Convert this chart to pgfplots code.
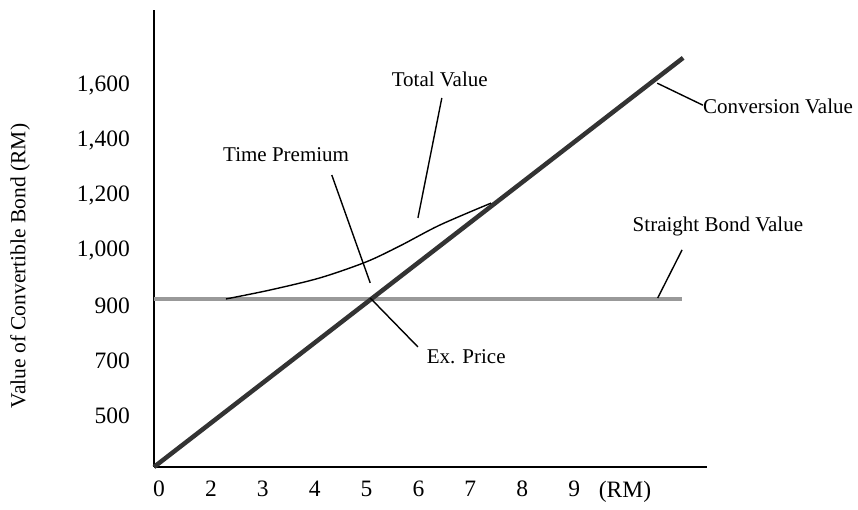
\documentclass[border=0pt]{standalone}
\usepackage{pgfplots}
\pgfplotsset{compat=1.18}
\usepackage{fontspec}
\setmainfont{Liberation Serif}
\definecolor{convc}{HTML}{333333}
\definecolor{bondc}{HTML}{999999}
\begin{document}
\fontsize{21}{25}\selectfont
\begin{tikzpicture}[x=1pt,y=1pt]
\path[use as bounding box] (0,0) rectangle (858,510);
\begin{axis}[
  at={(154pt,43pt)}, anchor=south west,
  scale only axis, width=553pt, height=457pt,
  xmin=-0.096, xmax=10.56, ymin=0.073, ymax=8.38,
  axis x line*=bottom, axis y line*=left,
  axis line style={line width=1.5pt, black},
  major tick length=0pt,
  xtick={0,1,2,3,4,5,6,7,8,8.98},
  xticklabels={0,2,3,4,5,6,7,8,9,(RM)},
  ytick={1,2,3,4,5,6,7},
  yticklabels={500,700,900,{1,000},{1,200},{1,400},{1,600}},
  ticklabel style={font=\fontsize{23.5}{27}\selectfont},
  xticklabel style={yshift=-7pt},
  yticklabel style={xshift=-17pt},
  ylabel={Value of Convertible Bond (RM)},
  every axis y label/.style={at={(axis description cs:-0.242,0.44)}, rotate=90, anchor=center, font=\fontsize{21.5}{25}\selectfont},
  clip=false,
]
% Straight bond value
\addplot[bondc, line width=3.5pt, no markers] coordinates {(-0.096,3.127) (10.08,3.127)};
% Conversion value
\addplot[convc, line width=4.5pt, no markers] coordinates {(-0.096,0.073) (10.10,7.51)};
% Total value
\addplot[black, line width=1.4pt, no markers, smooth, tension=0.5] coordinates {
(1.29,3.127) (2.14,3.29) (3.10,3.51) (3.99,3.80) (4.64,4.09) (5.41,4.47) (6.40,4.87)};
% leader lines
\draw[black, line width=1.4pt] (axis cs:5.45,6.78) -- (axis cs:4.99,4.60);
\draw[black, line width=1.4pt] (axis cs:3.33,5.38) -- (axis cs:4.07,3.42);
\draw[black, line width=1.4pt] (axis cs:4.07,3.145) -- (axis cs:4.99,2.255);
\draw[black, line width=1.4pt] (axis cs:9.60,7.05) -- (axis cs:10.48,6.65);
\draw[black, line width=1.4pt] (axis cs:10.08,4.02) -- (axis cs:9.61,3.145);
% labels
\node[font=\fontsize{21}{25}\selectfont] at (axis cs:5.41,7.11) {Total Value};
\node[font=\fontsize{21}{25}\selectfont] at (axis cs:2.45,5.75) {Time Premium};
\node[font=\fontsize{21}{25}\selectfont] at (axis cs:5.92,2.07) {Ex. Price};
\node[font=\fontsize{21}{25}\selectfont, anchor=west, inner sep=0pt] at (axis cs:10.48,6.62) {Conversion Value};
\node[font=\fontsize{21}{25}\selectfont] at (axis cs:10.77,4.44) {Straight Bond Value};
\end{axis}
\end{tikzpicture}
\end{document}
